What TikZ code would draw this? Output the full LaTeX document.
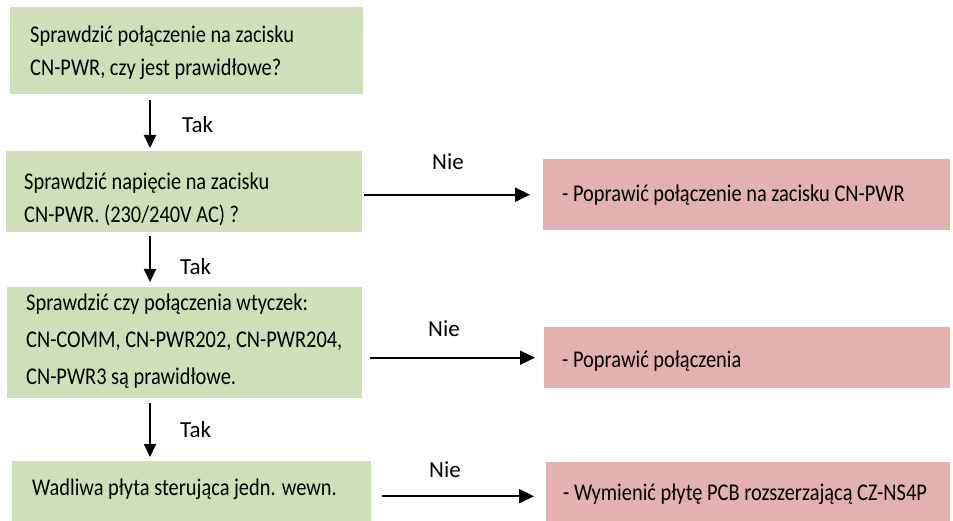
\documentclass[tikz,border=0pt]{standalone}
\usepackage{fontspec}
\setmainfont{Carlito}[FakeStretch=0.85]
\newfontfamily\labelfont{Carlito}
\usetikzlibrary{arrows.meta}
\definecolor{boxgreen}{HTML}{CEE0B8}
\definecolor{boxred}{HTML}{E3B1B0}
\newcommand\boxlines[3]{\raisebox{#3}[\height][\depth]{\makebox[#1][l]{\begin{tabular}{@{}l@{}}#2\end{tabular}}}}
\begin{document}
\begin{tikzpicture}[x=1pt,y=-1pt,
  every node/.style={font=\fontsize{24}{35}\selectfont, text=black},
  gbox/.style={fill=boxgreen, anchor=north west, inner ysep=0pt},
  rbox/.style={fill=boxred, anchor=north west, inner ysep=0pt},
  varr/.style={line width=2pt, -{Triangle[length=13pt,width=12pt]}},
  harr/.style={line width=2pt, -{Triangle[length=15pt,width=14pt]}},
  lbl/.style={anchor=base, inner sep=0pt, font=\labelfont\fontsize{23}{28}\selectfont},
  taklbl/.style={anchor=base west, inner sep=0pt, font=\labelfont\fontsize{23}{28}\selectfont}]
\useasboundingbox (0,0) rectangle (953,521);
% green boxes
\node[gbox, inner xsep=20pt, minimum height=87pt, font=\fontsize{24}{33}\selectfont] (b1) at (10,7)
  {\boxlines{313pt}{Sprawdzić połączenie na zacisku\\CN-PWR, czy jest prawidłowe?}{-2pt}};
\node[gbox, inner xsep=18pt, minimum height=81pt, font=\fontsize{24}{33}\selectfont] (b2) at (6,151)
  {\boxlines{320pt}{Sprawdzić napięcie na zacisku\\CN-PWR. (230/240V AC) ?}{-7.4pt}};
\node[gbox, inner xsep=19pt, minimum height=110pt, font=\fontsize{24}{37}\selectfont] (b3) at (7,287)
  {\boxlines{317pt}{Sprawdzić czy połączenia wtyczek:\\CN-COMM, CN-PWR202, CN-PWR204,\\CN-PWR3 są prawidłowe.}{2.4pt}};
\node[gbox, inner xsep=20pt, minimum height=60pt] (b4) at (12,461)
  {\boxlines{319pt}{Wadliwa płyta sterująca jedn. wewn.}{3pt}};
% red boxes
\node[rbox, inner xsep=19pt, minimum height=71pt] (r1) at (543,159)
  {\boxlines{369pt}{- Poprawić połączenie na zacisku CN-PWR}{0pt}};
\node[rbox, inner xsep=18pt, minimum height=61pt] (r2) at (544,327)
  {\boxlines{370pt}{- Poprawić połączenia}{-2.5pt}};
\node[rbox, inner xsep=17pt, minimum height=59pt] (r3) at (546,462)
  {\boxlines{370pt}{- Wymienić płytę PCB rozszerzającą CZ-NS4P}{-1.5pt}};
% vertical arrows
\coordinate (ax) at (150,0);
\draw[varr, shorten <=6pt, shorten >=3pt] (b1.south -| ax) -- (b2.north -| ax);
\draw[varr, shorten <=4pt, shorten >=5pt] (b2.south -| ax) -- (b3.north -| ax);
\draw[varr, shorten <=5pt, shorten >=4pt] (b3.south -| ax) -- (b4.north -| ax);
\node[taklbl] (t1) at (182,133) {Tak};
\node[taklbl] (t2) at (180,275) {Tak};
\node[taklbl] (t3) at (180,437) {Tak};
% horizontal arrows
\draw[harr, shorten <=2pt, shorten >=13pt] (r1.west -| b2.east) -- (r1.west);
\draw[harr, shorten <=8pt, shorten >=9pt] (r2.west -| b3.east) -- (r2.west);
\draw[harr, shorten <=11pt, shorten >=12pt] ([yshift=-4.5pt]r3.west -| b4.east) -- ([yshift=-4.5pt]r3.west);
\node[lbl] (n1) at (448,170) {Nie};
\node[lbl] (n2) at (444,337) {Nie};
\node[lbl] (n3) at (445,477) {Nie};
\end{tikzpicture}
\end{document}
